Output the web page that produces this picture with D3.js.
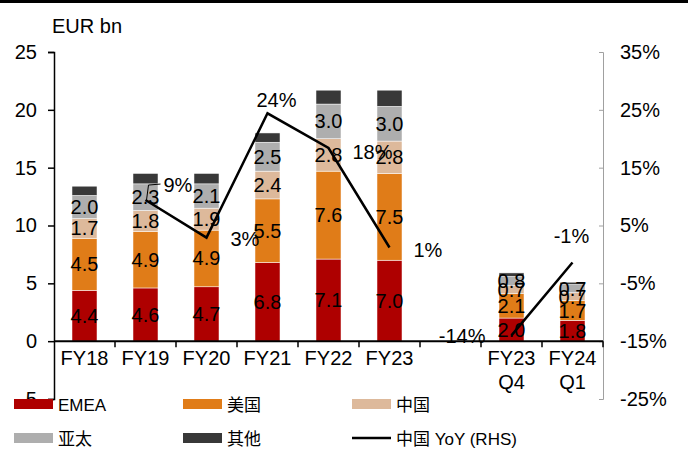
<!DOCTYPE html>
<html>
<head>
    <title>Revenue by region</title>
</head>
<body>
<style type="text/css">
    body {
        margin: 0;
        background: #fff;
    }

    #renderer {
        width: 688px;
        height: 455px;
        background: #FFF;
        display: block;
    }

    text {
        font-family: "Liberation Sans", Arial, sans-serif;
    }
</style>
<script type="text/javascript" src="https://cdnjs.cloudflare.com/ajax/libs/d3/7.8.5/d3.min.js"></script>
<svg id='renderer'></svg>

<script type="text/javascript">
    // data (EUR bn, YoY in %)
    var categories = ['FY18', 'FY19', 'FY20', 'FY21', 'FY22', 'FY23', 'gap', 'FY23 Q4', 'FY24 Q1'];
    var seriesNames = ['EMEA', '美国', '中国', '亚太', '其他'];
    var emea = [4.4, 4.6, 4.7, 6.8, 7.1, 7.0, null, 2.0, 1.8];
    var usa = [4.5, 4.9, 4.9, 5.5, 7.6, 7.5, null, 2.1, 1.7];
    var china = [1.7, 1.8, 1.9, 2.4, 2.8, 2.8, null, 0.7, 0.7];
    var apac = [2.0, 2.3, 2.1, 2.5, 3.0, 3.0, null, 0.8, 0.7];
    var other = [0.8, 0.9, 0.9, 0.8, 1.2, 1.4, null, 0.3, 0.2];
    var chinaYoY = [null, 9.4, 2.9, 24.4, 18.4, 1.2, null, -14, -1.4];
    var leftTicks = [-5, 0, 5, 10, 15, 20, 25];
    var rightTicks = [-25, -15, -5, 5, 15, 25, 35];

    var colors = ['#AE0000', '#E07C18', '#DDB99B', '#AEAEAE', '#383838'];
    // label offsets for the YoY points [dx, dy, anchor]
    var yoyLabelPos = [null, [18, -15, 'start'], [24, 1, 'start'], [9, -13, 'middle'], [24, 4, 'start'],
        [24, 3, 'start'], null, [-26, 1, 'end'], [-1, -27, 'middle']];

    var root = d3.select('#renderer');
    var totalWidth = 688;

    var plotLeft = 54;
    var plotRight = 603;
    var yTop = 52;
    var yBottom = 399;

    var x = d3.scaleBand()
        .domain(categories)
        .range([plotLeft, plotRight])
        .paddingInner(0.59)
        .paddingOuter(0.295);

    var yLeft = d3.scaleLinear().domain([-5, 25]).range([yBottom, yTop]);
    var yRight = d3.scaleLinear().domain([-25, 35]).range([yBottom, yTop]);

    // top rule
    root.append('line')
        .attr('x1', 0).attr('x2', totalWidth)
        .attr('y1', 1.5).attr('y2', 1.5)
        .attr('stroke', '#000')
        .attr('stroke-width', 3);

    // unit
    root.append('text')
        .text('EUR bn')
        .attr('x', 52)
        .attr('y', 33)
        .attr('font-size', 20);

    // stacked bars
    var rows = categories.map(function (c, i) {
        return {cat: c, s0: emea[i], s1: usa[i], s2: china[i], s3: apac[i], s4: other[i]};
    }).filter(function (d) { return d.s0 !== null; });

    var stack = d3.stack().keys(['s0', 's1', 's2', 's3', 's4']);
    var layers = stack(rows);

    var layerG = root.selectAll('g.layer')
        .data(layers)
        .enter().append('g')
        .attr('class', 'layer')
        .attr('fill', function (d, i) { return colors[i]; });

    layerG.selectAll('rect')
        .data(function (d) { return d; })
        .enter().append('rect')
        .attr('x', function (d) { return x(d.data.cat); })
        .attr('width', x.bandwidth())
        .attr('y', function (d) { return yLeft(d[1]); })
        .attr('height', function (d) { return yLeft(d[0]) - yLeft(d[1]); })
        .attr('stroke', '#fff')
        .attr('stroke-width', 0.5);

    // left axis
    var axisL = root.append('g')
        .attr('transform', 'translate(' + plotLeft + ',0)')
        .call(d3.axisLeft(yLeft).tickValues(leftTicks).tickSize(6).tickPadding(11)
            .tickFormat(function (d) { return String(d); }));
    axisL.select('.domain').attr('stroke-width', 1.5);
    axisL.selectAll('.tick line').attr('stroke-width', 1.5);
    axisL.selectAll('text').attr('font-size', 20).attr('fill', '#000')
        .attr('font-family', '"Liberation Sans", Arial, sans-serif');

    // right axis
    var axisR = root.append('g')
        .attr('transform', 'translate(' + plotRight + ',0)')
        .call(d3.axisRight(yRight).tickValues(rightTicks).tickSizeInner(-4).tickSizeOuter(-4).tickPadding(17)
            .tickFormat(function (d) { return d + '%'; }));
    axisR.select('.domain').attr('stroke', '#A0A0A0');
    axisR.selectAll('.tick line').attr('stroke', '#A0A0A0');
    axisR.selectAll('text').attr('font-size', 20).attr('fill', '#000')
        .attr('font-family', '"Liberation Sans", Arial, sans-serif');

    // category axis at zero
    var zeroY = yLeft(0);
    root.append('line')
        .attr('x1', plotLeft).attr('x2', plotRight)
        .attr('y1', zeroY).attr('y2', zeroY)
        .attr('stroke', '#000')
        .attr('stroke-width', 2);

    var step = x.step();
    for (var k = 1; k <= categories.length; k++) {
        root.append('line')
            .attr('x1', plotLeft + step * k).attr('x2', plotLeft + step * k)
            .attr('y1', zeroY).attr('y2', zeroY + 6)
            .attr('stroke', '#000')
            .attr('stroke-width', 1.5);
    }

    categories.forEach(function (c) {
        if (c === 'gap') return;
        var parts = c.split(' ');
        var cx = x(c) + x.bandwidth() / 2;
        parts.forEach(function (p, j) {
            root.append('text')
                .text(p)
                .attr('x', cx)
                .attr('y', zeroY + 24 + j * 24)
                .attr('font-size', 20)
                .attr('text-anchor', 'middle');
        });
    });

    // value labels for first four series
    var fmt = d3.format('.1f');
    layers.forEach(function (layer, li) {
        if (li > 3) return;
        layer.forEach(function (d) {
            root.append('text')
                .text(fmt(d[1] - d[0]))
                .attr('x', x(d.data.cat) + x.bandwidth() / 2)
                .attr('y', (yLeft(d[0]) + yLeft(d[1])) / 2)
                .attr('font-size', 20)
                .attr('text-anchor', 'middle')
                .attr('dominant-baseline', 'central')
                .attr('fill', '#000');
        });
    });

    // China YoY line
    var yoyPts = categories.map(function (c, i) {
        return {cat: c, v: chinaYoY[i], i: i};
    });
    var line = d3.line()
        .defined(function (d) { return d.v !== null; })
        .x(function (d) { return x(d.cat) + x.bandwidth() / 2; })
        .y(function (d) { return yRight(d.v); });

    root.append('path')
        .datum(yoyPts)
        .attr('d', line)
        .attr('fill', 'none')
        .attr('stroke', '#000')
        .attr('stroke-width', 2.5);

    yoyPts.forEach(function (d) {
        if (d.v === null) return;
        var pos = yoyLabelPos[d.i];
        var px = x(d.cat) + x.bandwidth() / 2;
        var py = yRight(d.v);
        root.append('text')
            .text(String(Math.round(d.v)) + '%')
            .attr('x', px + pos[0])
            .attr('y', py + pos[1])
            .attr('font-size', 20)
            .attr('text-anchor', pos[2])
            .attr('dominant-baseline', 'central');
    });

    // small leader line for the 9% label
    var p19x = x('FY19') + x.bandwidth() / 2;
    var p19y = yRight(chinaYoY[1]);
    root.append('path')
        .attr('d', 'M' + (p19x + 15) + ',' + (p19y - 16) + 'L' + (p19x + 3) + ',' + (p19y - 15) + 'L' + (p19x + 1) + ',' + p19y)
        .attr('fill', 'none')
        .attr('stroke', '#000')
        .attr('stroke-width', 1);

    // legend
    var legendItems = [
        {name: 'EMEA', type: 'rect', color: colors[0], col: 0, row: 0},
        {name: '美国', type: 'rect', color: colors[1], col: 1, row: 0},
        {name: '中国', type: 'rect', color: colors[2], col: 2, row: 0},
        {name: '亚太', type: 'rect', color: colors[3], col: 0, row: 1},
        {name: '其他', type: 'rect', color: colors[4], col: 1, row: 1},
        {name: '中国 YoY (RHS)', type: 'line', color: '#000', col: 2, row: 1}
    ];
    var legendColX = [14, 183, 352];
    var legendRowY = [404, 438];

    legendItems.forEach(function (it) {
        var lx = legendColX[it.col];
        var ly = legendRowY[it.row];
        if (it.type === 'rect') {
            root.append('rect')
                .attr('x', lx).attr('y', ly - 5)
                .attr('width', 39).attr('height', 10)
                .attr('fill', it.color);
        } else {
            root.append('line')
                .attr('x1', lx).attr('x2', lx + 39)
                .attr('y1', ly).attr('y2', ly)
                .attr('stroke', it.color)
                .attr('stroke-width', 2.5);
        }
        root.append('text')
            .text(it.name)
            .attr('x', lx + 44)
            .attr('y', ly + 1)
            .attr('font-size', 17)
            .attr('dominant-baseline', 'central')
            .style('font-family', '"Liberation Sans", "Noto Sans CJK SC", sans-serif');
    });
</script>
</body>
</html>
